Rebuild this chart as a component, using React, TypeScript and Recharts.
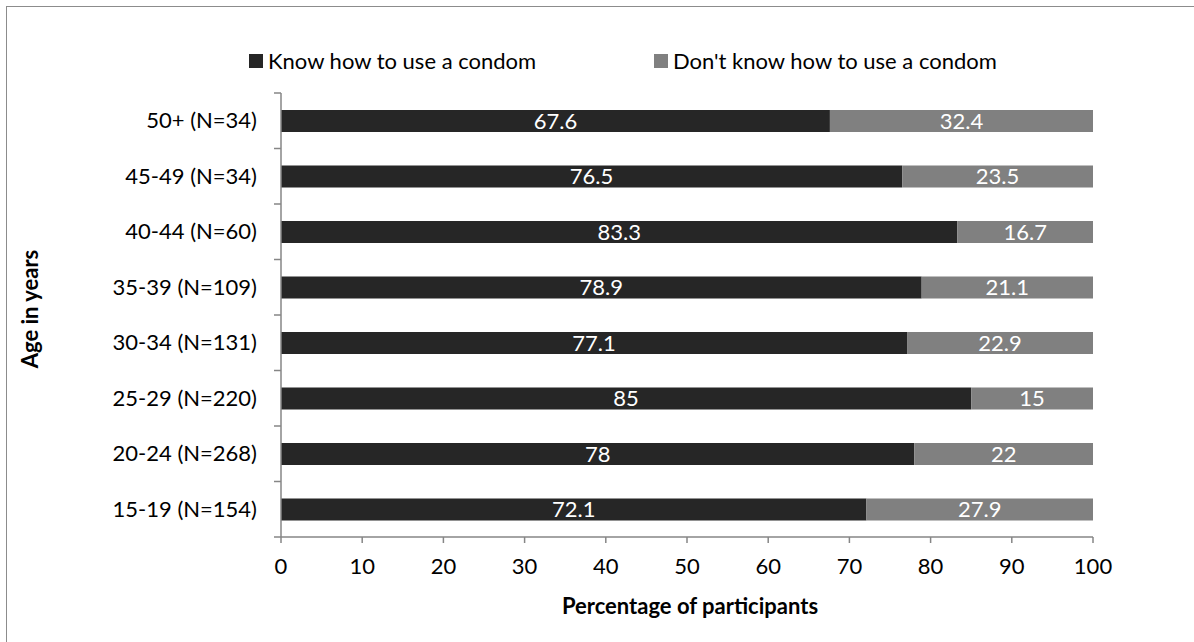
import React from 'react';
import { BarChart, Bar, XAxis, YAxis, LabelList, Legend } from 'recharts';

const ageGroups = ['50+ (N=34)', '45-49 (N=34)', '40-44 (N=60)', '35-39 (N=109)', '30-34 (N=131)', '25-29 (N=220)', '20-24 (N=268)', '15-19 (N=154)'];
const knowValues = [67.6, 76.5, 83.3, 78.9, 77.1, 85, 78, 72.1];
const dontKnowValues = [32.4, 23.5, 16.7, 21.1, 22.9, 15, 22, 27.9];
const xTicks = [0, 10, 20, 30, 40, 50, 60, 70, 80, 90, 100];
const seriesNames = ['Know how to use a condom', "Don't know how to use a condom"];

const data = ageGroups.map((g, i) => ({ group: g, know: knowValues[i], dontKnow: dontKnowValues[i] }));

const W = 1194;
const H = 642;
const PLOT_LEFT = 281;
const PLOT_RIGHT = 1093;
const PLOT_TOP = 93;
const PLOT_BOTTOM = 537;
const FONT = 'Lato, "Open Sans", sans-serif';
const FS = 22;
const AXIS_COLOR = '#868686';
const DARK = '#262626';
const GRAY = '#808080';
const HALF_BAND = (PLOT_BOTTOM - PLOT_TOP) / ageGroups.length / 2;

const YTick = (props: any) => {
  const { y, payload, index } = props;
  return (
    <g>
      <text x={PLOT_LEFT - 24} y={y} dy="0.35em" textAnchor="end" fill="#000" fontSize={FS} fontFamily={FONT}>
        {payload.value}
      </text>
      <line x1={PLOT_LEFT - 7} x2={PLOT_LEFT} y1={y - HALF_BAND} y2={y - HALF_BAND} stroke={AXIS_COLOR} strokeWidth={1.5} />
      {index === ageGroups.length - 1 && (
        <line x1={PLOT_LEFT - 7} x2={PLOT_LEFT} y1={y + HALF_BAND} y2={y + HALF_BAND} stroke={AXIS_COLOR} strokeWidth={1.5} />
      )}
    </g>
  );
};

const LegendContent = () => {
  const items = [
    { name: seriesNames[0], color: DARK, left: 249 },
    { name: seriesNames[1], color: GRAY, left: 654 },
  ];
  return (
    <div style={{ position: 'relative', width: W, height: 30 }}>
      {items.map((it) => (
        <div key={it.name} style={{ position: 'absolute', left: it.left, top: 0, height: 30, display: 'flex', alignItems: 'center', whiteSpace: 'nowrap' }}>
          <span style={{ display: 'inline-block', width: 14, height: 14, background: it.color, marginRight: 5 }} />
          <span style={{ fontFamily: FONT, fontSize: FS, color: '#000', lineHeight: '30px' }}>{it.name}</span>
        </div>
      ))}
    </div>
  );
};

const YTitle = () => {
  const cx = 29;
  const cy = 309;
  return (
    <text x={cx} y={cy} transform={`rotate(-90, ${cx}, ${cy})`} textAnchor="middle" dominantBaseline="central" fontFamily={FONT} fontSize={FS} fontWeight="bold" fill="#000">
      Age in years
    </text>
  );
};

const XTitle = () => {
  return (
    <text x={690} y={605} textAnchor="middle" dominantBaseline="central" fontFamily={FONT} fontSize={FS} fontWeight="bold" fill="#000">
      Percentage of participants
    </text>
  );
};

export default function App() {
  return (
    <div style={{ position: 'absolute', left: 0, top: 0, width: W, height: H, overflow: 'hidden', background: '#fff' }}>
      <div style={{ position: 'absolute', left: 6, top: 6, width: 1400, height: 900, border: '1px solid #8c8c8c' }} />
      <BarChart
        width={W}
        height={H}
        data={data}
        layout="vertical"
        margin={{ top: PLOT_TOP, right: W - PLOT_RIGHT, bottom: H - PLOT_BOTTOM - 40, left: 0 }}
        style={{ position: 'absolute', left: 0, top: 0 }}
      >
        <XAxis
          type="number"
          domain={[0, 100]}
          ticks={xTicks}
          interval={0}
          height={40}
          stroke={AXIS_COLOR}
          strokeWidth={1.5}
          tickSize={6}
          tickMargin={15}
          tick={{ fill: '#000', fontSize: FS, fontFamily: FONT }}
          label={<XTitle />}
        />
        <YAxis
          type="category"
          dataKey="group"
          width={PLOT_LEFT}
          stroke={AXIS_COLOR}
          strokeWidth={1.5}
          tickLine={false}
          interval={0}
          tick={<YTick />}
          label={<YTitle />}
        />
        <Legend
          layout="horizontal"
          verticalAlign="middle"
          align="center"
          content={<LegendContent />}
          wrapperStyle={{ top: 46, left: 0, width: W }}
        />
        <Bar dataKey="know" name={seriesNames[0]} stackId="a" fill={DARK} barSize={22} isAnimationActive={false}>
          <LabelList dataKey="know" position="center" fill="#fff" fontSize={FS} fontFamily={FONT} />
        </Bar>
        <Bar dataKey="dontKnow" name={seriesNames[1]} stackId="a" fill={GRAY} barSize={22} isAnimationActive={false}>
          <LabelList dataKey="dontKnow" position="center" fill="#fff" fontSize={FS} fontFamily={FONT} />
        </Bar>
      </BarChart>
    </div>
  );
}
